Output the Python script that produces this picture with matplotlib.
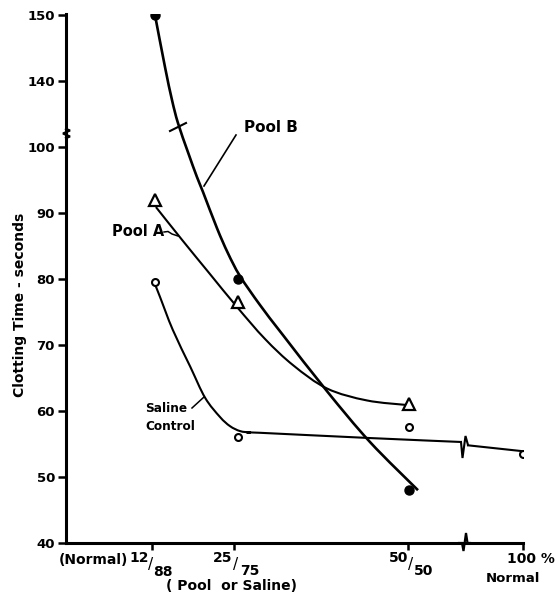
import matplotlib
matplotlib.use("Agg")
import matplotlib.pyplot as plt
from matplotlib.lines import Line2D
from matplotlib.path import Path
from matplotlib.patches import PathPatch

# ---------------- data ----------------
categories = ["12/88", "25/75", "50/50", "100%"]
cat_pos = [12.5, 24.8, 50.1, 67.0]          # % normal plasma (marker positions)

pool_b = [150, 80, 48]
pool_a = [92, 76.5, 61]
saline = [79.5, 56, 57.5, 53.5]

# hand-drawn curves (x = % normal, y = seconds)
pool_b_curve_x = [12.46, 13.95, 14.99, 15.88, 17.36, 18.69, 19.58, 21.66, 23.29, 25.07,
                  28.04, 31.45, 37.98, 44.36, 51.48]
pool_b_curve_y = [150.0, 142.1, 137.1, 133.6, 99.2, 95.45, 93.2, 87.7, 83.9, 80.45,
                  76.06, 71.5, 63.0, 55.3, 48.0]

pool_a_curve_x = [12.6, 16.5, 20.5, 24.6, 28.8, 33.0, 38.0, 43.9, 49.9]
pool_a_curve_y = [90.9, 85.9, 80.9, 75.8, 70.9, 66.9, 63.4, 61.6, 60.9]

saline_curve1_x = [12.5, 13.2, 15.1, 17.7, 19.9, 22.1, 23.6, 25.1, 26.6, 28.0, 44.4, 58.0]
saline_curve1_y = [79.1, 77.3, 72.3, 66.7, 62.0, 59.1, 57.7, 56.95, 56.75, 56.7, 55.9, 55.3]
saline_curve2_x = [58.9, 67.1]
saline_curve2_y = [54.8, 53.9]

yticks_real = [40, 50, 60, 70, 80, 90, 100, 140, 150]

# ---------------- figure ----------------
W, H = 558, 596
fig = plt.figure(figsize=(W / 100, H / 100), dpi=100)
ax = fig.add_axes([66 / W, 53 / H, 457 / W, 529 / H])
ax.set_xlim(-0.74, 67.06)
ax.set_ylim(40, 120.15)


def brk(v):
    """broken y axis: values above the break are shifted down by 30 s"""
    return v if v <= 100 else v - 30


def brks(vals):
    return [brk(v) for v in vals]


def smooth_curve(xs, ys, lw):
    """draw a smooth cubic-Bezier path passing through the traced points"""
    pts = list(zip(xs, ys))
    n = len(pts)
    if n < 3:
        ax.plot(xs, ys, color="black", lw=lw)
        return
    verts = [pts[0]]
    codes = [Path.MOVETO]
    for i in range(n - 1):
        p0 = pts[i - 1] if i > 0 else pts[i]
        p1 = pts[i]
        p2 = pts[i + 1]
        p3 = pts[i + 2] if i + 2 < n else pts[i + 1]
        c1 = (p1[0] + (p2[0] - p0[0]) / 6, p1[1] + (p2[1] - p0[1]) / 6)
        c2 = (p2[0] - (p3[0] - p1[0]) / 6, p2[1] - (p3[1] - p1[1]) / 6)
        verts += [c1, c2, p2]
        codes += [Path.CURVE4] * 3
    ax.add_patch(PathPatch(Path(verts, codes), fill=False, edgecolor="black",
                           lw=lw, capstyle="butt", joinstyle="round"))


FONT = "DejaVu Sans"

# curves
smooth_curve(pool_b_curve_x, brks(pool_b_curve_y), 1.9)
smooth_curve(pool_a_curve_x, brks(pool_a_curve_y), 1.5)
smooth_curve(saline_curve1_x, brks(saline_curve1_y), 1.5)
smooth_curve(saline_curve2_x, brks(saline_curve2_y), 1.5)

# markers
ax.plot(cat_pos[:3], brks(pool_b), "o", color="black", ms=6.5, zorder=5)
ax.plot(cat_pos[:3], brks(pool_a), "^", mfc="white", mec="black", ms=8,
        mew=1.6, zorder=5)
ax.plot(cat_pos, brks(saline), "o", mfc="white", mec="black", ms=5,
        mew=1.5, zorder=5)

# axes styling
for s in ("top", "right"):
    ax.spines[s].set_visible(False)
for s in ("left", "bottom"):
    ax.spines[s].set_linewidth(2.2)
ax.set_yticks(brks(yticks_real))
ax.set_yticklabels([str(v) for v in yticks_real], fontsize=9.5,
                   fontweight="bold", family=FONT)
ax.tick_params(axis="y", direction="out", length=6, width=1.8, pad=2)
ax.set_xticks([12.0, 24.2, 50.0, 67.0])
ax.set_xticklabels([])
ax.tick_params(axis="x", direction="out", length=5, width=1.8)
ax.set_ylabel("Clotting Time - seconds", fontsize=10, fontweight="bold",
              family=FONT, labelpad=4)
ax.yaxis.set_label_coords(-0.085, 0.45)


# --------- decorations in pixel space ---------
def pline(pts, lw=1.2, z=6):
    xs = [p[0] / W for p in pts]
    ys = [1 - p[1] / H for p in pts]
    fig.add_artist(Line2D(xs, ys, transform=fig.transFigure, color="black",
                          lw=lw, solid_joinstyle="miter", zorder=z))


def ptext(px, py, s, size=10, ha="center", va="center", weight="bold"):
    fig.text(px / W, 1 - py / H, s, fontsize=size, ha=ha, va=va,
             fontweight=weight, family=FONT)


# y-axis break zigzag
pline([(66, 138), (70, 136.5), (63, 133.5), (70, 130.5), (66, 129)], lw=1.6)
# x-axis break zigzag
pline([(459, 543), (462, 543), (463.5, 551), (466, 533), (467.5, 543), (470, 543)], lw=1.6)
# saline line break zigzag
pline([(461, 442), (462.5, 458), (465.5, 436), (468, 445)], lw=1.5)
# pool B break slash
pline([(170, 131), (186, 123)], lw=1.5)

# leader lines
pline([(236, 135), (204, 186)], lw=1.2)
pline([(164, 232), (168, 231.5), (172, 234), (178, 236)], lw=1.1)
pline([(192, 408), (204, 397)], lw=1.1)

# series labels
ptext(271, 127, "Pool B", size=11)
ptext(138, 232, "Pool A", size=10.5)
ptext(145, 409, "Saline", size=8.7, ha="left")
ptext(145, 426, "Control", size=8.7, ha="left")

# x tick labels
ptext(128, 560, "(Normal)", size=10, ha="right")
ptext(139, 558, "12", size=10)
ptext(151, 564, "/", size=11, weight="normal")
ptext(163, 572, "88", size=10)
ptext(223, 558, "25", size=10)
ptext(236, 564, "/", size=11, weight="normal")
ptext(250, 571, "75", size=10)
ptext(399, 558, "50", size=10)
ptext(411, 564, "/", size=11, weight="normal")
ptext(424, 571, "50", size=10)
ptext(507, 559, "100 %", size=10, ha="left")
ptext(513, 578, "Normal", size=9.5)
ptext(232, 586, "( Pool  or Saline)", size=10)

fig.savefig("out.png", dpi=100)
